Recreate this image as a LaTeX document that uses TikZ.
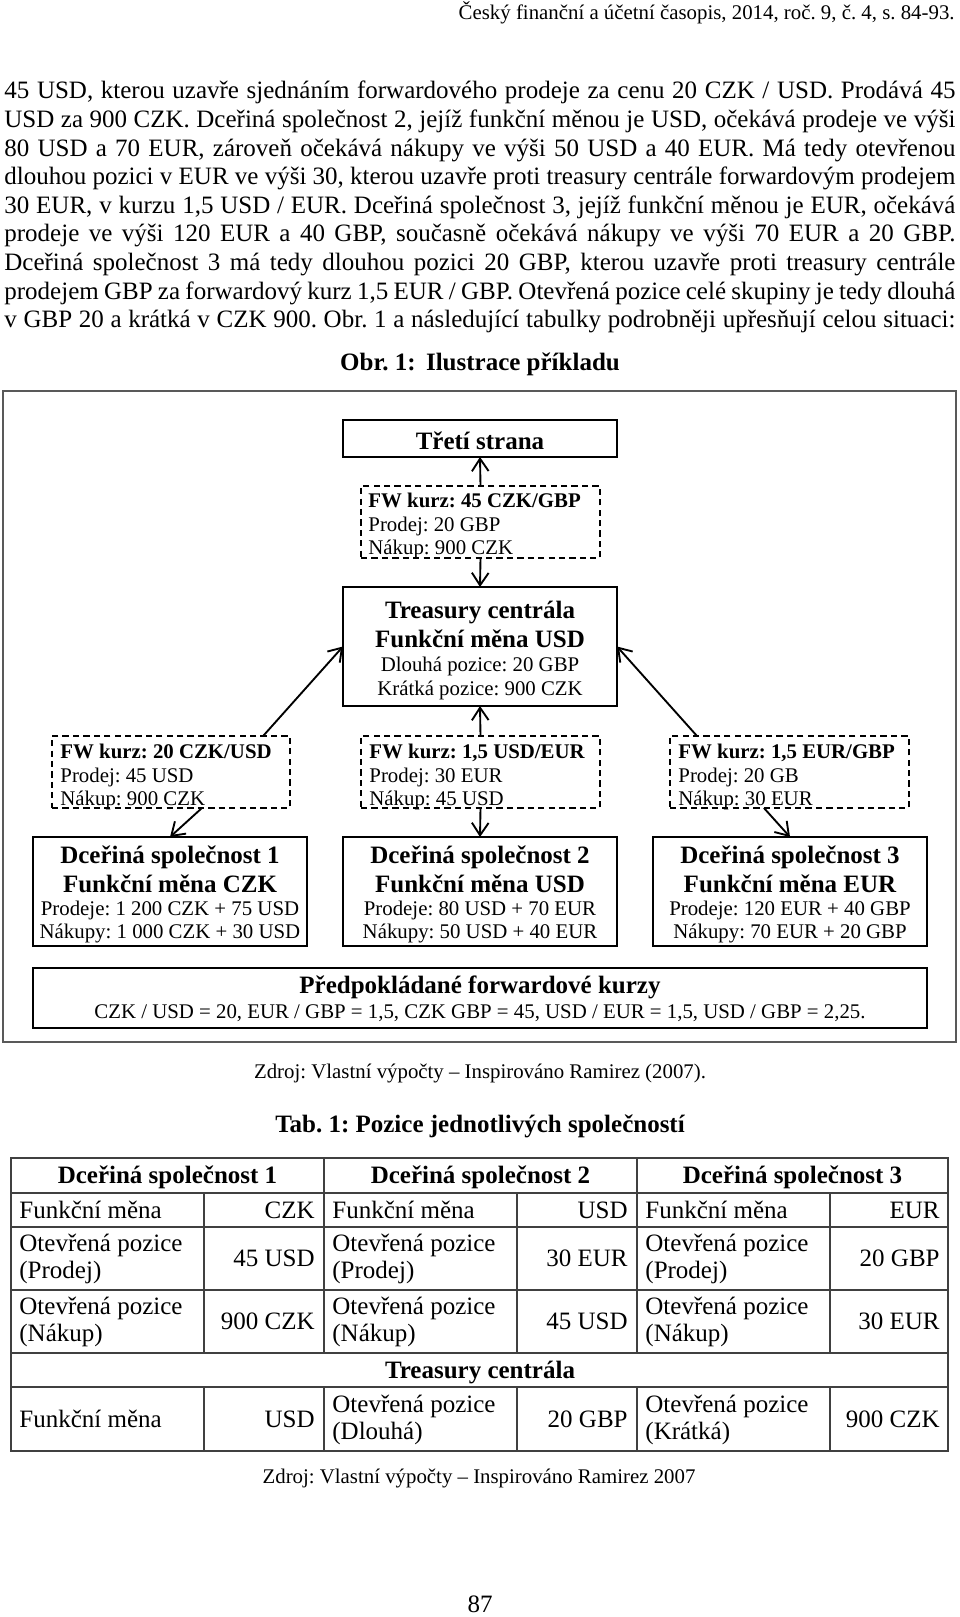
\documentclass[tikz,border=0pt]{standalone}
\usepackage{fontspec}
\setmainfont{Liberation Serif}
\usetikzlibrary{arrows.meta,calc}
\frenchspacing
\newcommand\mkbox[6]{\node[#1, minimum width={(#5-#3)*0.48pt}, minimum height={(#6-#4)*0.48pt}] (#2) at ({(#3+#5)/2},{(#4+#6)/2}) {};}
\newcommand\jline[1]{\makebox[456.5pt][s]{#1}}
\begin{document}
\begin{tikzpicture}[x=0.48pt,y=-0.48pt,
  bx/.style={draw, line width=1.2pt, inner sep=0pt, outer sep=0pt},
  dbx/.style={draw, line width=0.9pt, dash pattern=on 3pt off 2pt, inner sep=0pt, outer sep=0pt},
  arr/.style={line width=0.9pt, -{Straight Barb[length=6pt,width=8pt]}},
  t12/.style={font=\fontsize{12}{14}\selectfont, inner sep=0pt},
  b12/.style={font=\fontsize{12}{14}\selectfont\bfseries, inner sep=0pt},
  t10/.style={font=\fontsize{10}{12}\selectfont, inner sep=0pt},
  b10/.style={font=\fontsize{10}{12}\selectfont\bfseries, inner sep=0pt},
  tl/.style={draw=black!75, line width=0.7pt},
  frm/.style={draw=black!65, line width=0.8pt}]
\useasboundingbox (0,0) rectangle (960,1617);

% header
\node[t10, anchor=base east] (hdr) at (955,20) {Český finanční a účetní časopis, 2014, roč. 9, č. 4, s. 84-93.};

% paragraph
\node[t12, anchor=base west] (p1) at (4,99) {\jline{45 USD, kterou uzavře sjednáním forwardového prodeje za cenu 20 CZK / USD. Prodává 45}};
\node[t12, anchor=base west] (p2) at (4,127.6) {\jline{USD za 900 CZK. Dceřiná společnost 2, jejíž funkční měnou je USD, očekává prodeje ve výši}};
\node[t12, anchor=base west] (p3) at (4,156.2) {\jline{80 USD a 70 EUR, zároveň očekává nákupy ve výši 50 USD a 40 EUR. Má tedy otevřenou}};
\node[t12, anchor=base west] (p4) at (4,184.8) {\jline{dlouhou pozici v EUR ve výši 30, kterou uzavře proti treasury centrále forwardovým prodejem}};
\node[t12, anchor=base west] (p5) at (4,213.4) {\jline{30 EUR, v kurzu 1,5 USD / EUR. Dceřiná společnost 3, jejíž funkční měnou je EUR, očekává}};
\node[t12, anchor=base west] (p6) at (4,242) {\jline{prodeje ve výši 120 EUR a 40 GBP, současně očekává nákupy ve výši 70 EUR a 20 GBP.}};
\node[t12, anchor=base west] (p7) at (4,270.6) {\jline{Dceřiná společnost 3 má tedy dlouhou pozici 20 GBP, kterou uzavře proti treasury centrále}};
\node[t12, anchor=base west] (p8) at (4,299.2) {\jline{prodejem GBP za forwardový kurz 1,5 EUR / GBP. Otevřená pozice celé skupiny je tedy dlouhá}};
\node[t12, anchor=base west] (p9) at (4,327.8) {\jline{v GBP 20 a krátká v CZK 900. Obr. 1 a následující tabulky podrobněji upřesňují celou situaci:}};

% figure title
\node[b12, anchor=base] (obr) at (480,371) {Obr. 1:\, Ilustrace příkladu};

% frame
\draw[frm] (3,391) rectangle (956,1042);

% boxes
\mkbox{bx}{treti}{343}{420}{617}{457}
\mkbox{dbx}{fw0}{361}{486}{600}{558}
\mkbox{bx}{treas}{343}{587}{617}{706}
\mkbox{dbx}{fw1}{52}{736}{290}{808}
\mkbox{dbx}{fw2}{361}{736}{600}{808}
\mkbox{dbx}{fw3}{670}{736}{909}{808}
\mkbox{bx}{d1}{33}{837}{307}{946}
\mkbox{bx}{d2}{343}{837}{617}{946}
\mkbox{bx}{d3}{653}{837}{927}{946}
\mkbox{bx}{pred}{33}{968}{927}{1028}

% box texts
\node[b12, anchor=base] (tretiT) at (480,449) {Třetí strana};

\node[b10, anchor=base west] (fw0a) at (368,507) {FW kurz: 45 CZK/GBP};
\node[t10, anchor=base west] (fw0b) at (368,531) {Prodej: 20 GBP};
\node[t10, anchor=base west] (fw0c) at (368,554) {Nákup: 900 CZK};

\node[b12, anchor=base] (trA) at (480,618) {Treasury centrála};
\node[b12, anchor=base] (trB) at (480,647) {Funkční měna USD};
\node[t10, anchor=base] (trC) at (480,671) {Dlouhá pozice: 20 GBP};
\node[t10, anchor=base] (trD) at (480,695) {Krátká pozice: 900 CZK};

\node[b10, anchor=base west] (fw1a) at (60,758) {FW kurz: 20 CZK/USD};
\node[t10, anchor=base west] (fw1b) at (60,782) {Prodej: 45 USD};
\node[t10, anchor=base west] (fw1c) at (60,805) {Nákup: 900 CZK};
\node[b10, anchor=base west] (fw2a) at (369,758) {FW kurz: 1,5 USD/EUR};
\node[t10, anchor=base west] (fw2b) at (369,782) {Prodej: 30 EUR};
\node[t10, anchor=base west] (fw2c) at (369,805) {Nákup: 45 USD};
\node[b10, anchor=base west] (fw3a) at (678,758) {FW kurz: 1,5 EUR/GBP};
\node[t10, anchor=base west] (fw3b) at (678,782) {Prodej: 20 GB};
\node[t10, anchor=base west] (fw3c) at (678,805) {Nákup: 30 EUR};

\node[b12, anchor=base] (d1a) at (170,863) {Dceřiná společnost 1};
\node[b12, anchor=base] (d1b) at (170,892) {Funkční měna CZK};
\node[t10, anchor=base] (d1c) at (170,915) {Prodeje: 1 200 CZK + 75 USD};
\node[t10, anchor=base] (d1d) at (170,938) {Nákupy: 1 000 CZK + 30 USD};
\node[b12, anchor=base] (d2a) at (480,863) {Dceřiná společnost 2};
\node[b12, anchor=base] (d2b) at (480,892) {Funkční měna USD};
\node[t10, anchor=base] (d2c) at (480,915) {Prodeje: 80 USD + 70 EUR};
\node[t10, anchor=base] (d2d) at (480,938) {Nákupy: 50 USD + 40 EUR};
\node[b12, anchor=base] (d3a) at (790,863) {Dceřiná společnost 3};
\node[b12, anchor=base] (d3b) at (790,892) {Funkční měna EUR};
\node[t10, anchor=base] (d3c) at (790,915) {Prodeje: 120 EUR + 40 GBP};
\node[t10, anchor=base] (d3d) at (790,938) {Nákupy: 70 EUR + 20 GBP};

\node[b12, anchor=base] (predA) at (480,993) {Předpokládané forwardové kurzy};
\node[t10, anchor=base] (predB) at (480,1018) {CZK / USD = 20, EUR / GBP = 1,5, CZK GBP = 45, USD / EUR = 1,5, USD / GBP = 2,25.};

% arrows
\draw[arr] (fw0.north) -- (treti.south);
\draw[arr] (fw0.south) -- (treas.north);
\draw[arr] ($(fw1.north west)!0.887!(fw1.north east)$) -- (treas.west);
\draw[arr] (fw2.north) -- (treas.south);
\draw[arr] ($(fw3.north west)!0.113!(fw3.north east)$) -- (treas.east);
\draw[arr] ($(fw1.south west)!0.63!(fw1.south east)$) -- (d1.north);
\draw[arr] (fw2.south) -- (d2.north);
\draw[arr] ($(fw3.south west)!0.393!(fw3.south east)$) -- (d3.north);

% source 1
\node[t10, anchor=base] (src1) at (480,1078) {Zdroj: Vlastní výpočty – Inspirováno Ramirez (2007).};

% table title
\node[b12, anchor=base] (tab) at (480,1132) {Tab. 1: Pozice jednotlivých společností};

% table grid
\draw[tl] (11,1158) rectangle (948,1451);
\foreach \yy in {1193,1227,1290,1353,1387} \draw[tl] (11,\yy) -- (948,\yy);
\foreach \xx in {324,637} {\draw[tl] (\xx,1158) -- (\xx,1353); \draw[tl] (\xx,1387) -- (\xx,1451);}
\foreach \xx in {204,517,830} {\draw[tl] (\xx,1193) -- (\xx,1353); \draw[tl] (\xx,1387) -- (\xx,1451);}

% table text
\node[b12, anchor=base] (h1) at (167.5,1183) {Dceřiná společnost 1};
\node[b12, anchor=base] (h2) at (480.5,1183) {Dceřiná společnost 2};
\node[b12, anchor=base] (h3) at (792.5,1183) {Dceřiná společnost 3};

\node[t12, anchor=base west] (r2a) at (19,1218) {Funkční měna};
\node[t12, anchor=base east] (r2b) at (315,1218) {CZK};
\node[t12, anchor=base west] (r2c) at (332,1218) {Funkční měna};
\node[t12, anchor=base east] (r2d) at (628,1218) {USD};
\node[t12, anchor=base west] (r2e) at (645,1218) {Funkční měna};
\node[t12, anchor=base east] (r2f) at (940,1218) {EUR};

\foreach \xl/\nm in {19/a,332/b,645/c} {
  \node[t12, anchor=base west] (r3\nm1) at (\xl,1251.5) {Otevřená pozice};
  \node[t12, anchor=base west] (r3\nm2) at (\xl,1278.5) {(Prodej)};
  \node[t12, anchor=base west] (r4\nm1) at (\xl,1314.5) {Otevřená pozice};
  \node[t12, anchor=base west] (r4\nm2) at (\xl,1341.5) {(Nákup)};
}
\node[t12, anchor=base east] (r3v1) at (315,1266) {45 USD};
\node[t12, anchor=base east] (r3v2) at (628,1266) {30 EUR};
\node[t12, anchor=base east] (r3v3) at (940,1266) {20 GBP};
\node[t12, anchor=base east] (r4v1) at (315,1329) {900 CZK};
\node[t12, anchor=base east] (r4v2) at (628,1329) {45 USD};
\node[t12, anchor=base east] (r4v3) at (940,1329) {30 EUR};

\node[b12, anchor=base] (r5) at (480,1378) {Treasury centrála};

\node[t12, anchor=base west] (r6a) at (19,1427) {Funkční měna};
\node[t12, anchor=base east] (r6b) at (315,1427) {USD};
\node[t12, anchor=base west] (r6c1) at (332,1412) {Otevřená pozice};
\node[t12, anchor=base west] (r6c2) at (332,1439) {(Dlouhá)};
\node[t12, anchor=base east] (r6d) at (628,1427) {20 GBP};
\node[t12, anchor=base west] (r6e1) at (645,1412) {Otevřená pozice};
\node[t12, anchor=base west] (r6e2) at (645,1439) {(Krátká)};
\node[t12, anchor=base east] (r6f) at (940,1427) {900 CZK};

% source 2 and page number
\node[t10, anchor=base] (src2) at (479,1483) {Zdroj: Vlastní výpočty – Inspirováno Ramirez 2007};
\node[t12, anchor=base] (pg) at (480,1612) {87};
\end{tikzpicture}
\end{document}
